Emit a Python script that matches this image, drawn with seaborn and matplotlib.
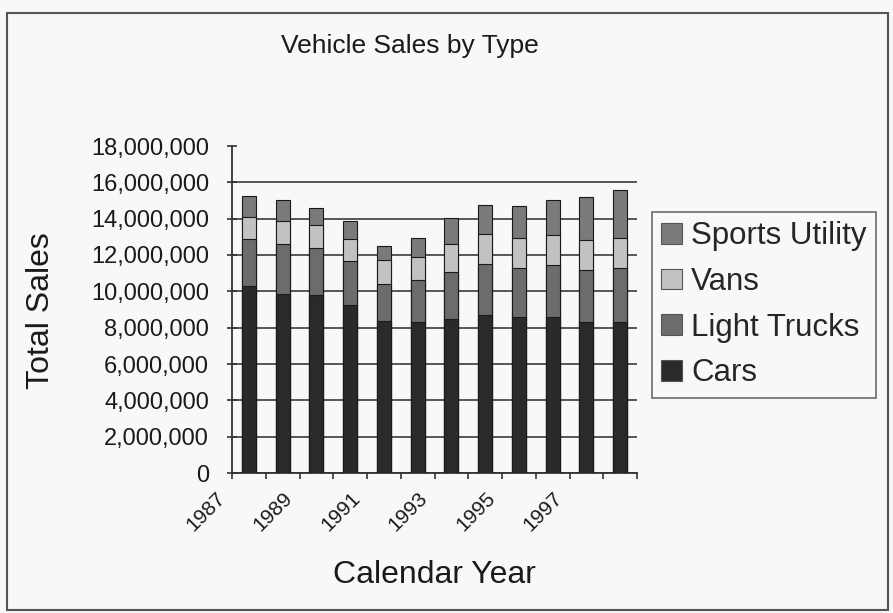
import matplotlib
matplotlib.use("Agg")
import matplotlib.pyplot as plt
import matplotlib.transforms as mtransforms
from matplotlib.patches import Patch, Rectangle
from matplotlib.ticker import FuncFormatter
import seaborn as sns
import pandas as pd

# ---- data (values in millions of vehicles) ----
years = ["1987", "1988", "1989", "1990", "1991", "1992",
         "1993", "1994", "1995", "1996", "1997", "1998"]
cars = [10.28, 9.85, 9.80, 9.27, 8.36, 8.30, 8.50, 8.67, 8.60, 8.60, 8.30, 8.30]
light_trucks = [2.62, 2.75, 2.57, 2.38, 2.04, 2.30, 2.55, 2.83, 2.70, 2.85, 2.90, 3.00]
vans = [1.20, 1.27, 1.28, 1.25, 1.30, 1.30, 1.55, 1.65, 1.65, 1.65, 1.60, 1.65]
sports_utility = [1.17, 1.18, 0.95, 0.95, 0.77, 1.05, 1.45, 1.60, 1.75, 1.95, 2.40, 2.65]
series_names = ["Cars", "Light Trucks", "Vans", "Sports Utility"]
tick_years = ["1987", "1989", "1991", "1993", "1995", "1997"]
y_ticks = [0, 2e6, 4e6, 6e6, 8e6, 10e6, 12e6, 14e6, 16e6, 18e6]

M = 1e6
df = pd.DataFrame({
    "Year": years,
    "Cars": [v * M for v in cars],
    "Light Trucks": [v * M for v in light_trucks],
    "Vans": [v * M for v in vans],
    "Sports Utility": [v * M for v in sports_utility],
})
# cumulative tops for stacking
cum = df[series_names].cumsum(axis=1)
for s in series_names:
    df["cum_" + s] = cum[s]

colors = {"Cars": "#2a2a2a", "Light Trucks": "#6c6c6c",
          "Vans": "#c2c2c2", "Sports Utility": "#7a7a7a"}

sns.set_style("white")
plt.rcParams["font.family"] = ["Liberation Sans", "DejaVu Sans"]

W, H = 893, 613
fig = plt.figure(figsize=(W / 100, H / 100), dpi=100)
bg = "#f8f8f8"
fig.patch.set_facecolor(bg)

ax = fig.add_axes([232 / W, 1 - 473 / H, (637 - 232) / W, (473 - 146) / H])
ax.set_facecolor(bg)

# stacked bars: draw from the tallest cumulative down
for s in reversed(series_names):
    sns.barplot(data=df, x="Year", y="cum_" + s, order=years, color=colors[s],
                saturation=1, width=0.42, edgecolor="#1a1a1a", linewidth=0.8,
                ax=ax, zorder=3)

ax.set_xlim(-0.5, len(years) - 0.5)
ax.set_ylim(0, 18e6)
ax.set_yticks(y_ticks)
ax.yaxis.set_major_formatter(FuncFormatter(lambda v, p: f"{int(v):,}"))
ax.yaxis.grid(True, color="#4a4a4a", linewidth=1.3, zorder=0)
ax.set_axisbelow(True)
ax.get_ygridlines()[-1].set_visible(False)

ax.set_xlabel("")
ax.set_ylabel("")
for sp in ["top", "right"]:
    ax.spines[sp].set_visible(False)
for sp in ["left", "bottom"]:
    ax.spines[sp].set_color("#333333")
    ax.spines[sp].set_linewidth(1.3)

ax.tick_params(axis="y", direction="inout", length=7, width=1.2, color="#333333",
               pad=13, labelsize=17, labelcolor="#1a1a1a", left=True)

# x: minor ticks between categories, labels every other year
tick_pos = [years.index(t) for t in tick_years]
ax.set_xticks(tick_pos)
ax.set_xticklabels(tick_years, rotation=45, ha="right", fontsize=15, color="#1a1a1a")
ax.set_xticks([i - 0.5 for i in range(len(years) + 1)], minor=True)
ax.tick_params(axis="x", which="major", length=0, pad=11)
ax.tick_params(axis="x", which="minor", direction="out", length=4, width=1.2,
               color="#333333", bottom=True)
offset = mtransforms.ScaledTranslation(-20 / 100, 0, fig.dpi_scale_trans)
for lab in ax.get_xticklabels():
    lab.set_transform(lab.get_transform() + offset)

# texts
fig.text(410 / W, 1 - 46 / H, "Vehicle Sales by Type", ha="center", va="center",
         fontsize=19, color="#1a1a1a")
fig.text(41 / W, 1 - 311 / H, "Total Sales", ha="center", va="center", rotation=90,
         fontsize=23, color="#1a1a1a")
fig.text(434 / W, 1 - 575 / H, "Calendar Year", ha="center", va="center",
         fontsize=23, color="#1a1a1a")

# legend
handles = [Patch(facecolor=colors[s], edgecolor="#555555", linewidth=0.8)
           for s in reversed(series_names)]
leg = fig.legend(handles, list(reversed(series_names)), loc="upper left",
                 bbox_to_anchor=(652 / W, 1 - 212 / H), fontsize=22.5,
                 frameon=True, fancybox=False, shadow=False,
                 handlelength=0.65, handleheight=0.65, handletextpad=0.3,
                 labelspacing=0.5, borderpad=0.3, borderaxespad=0)
leg.get_frame().set_edgecolor("#555555")
leg.get_frame().set_linewidth(1.3)
leg.get_frame().set_facecolor(bg)

# outer frame
fig.patches.append(Rectangle((7 / W, 1 - 610 / H), (888 - 7) / W, (610 - 13) / H,
                             transform=fig.transFigure, fill=False,
                             edgecolor="#555555", linewidth=1.5))

fig.savefig("out.png", dpi=100, facecolor=fig.get_facecolor())
